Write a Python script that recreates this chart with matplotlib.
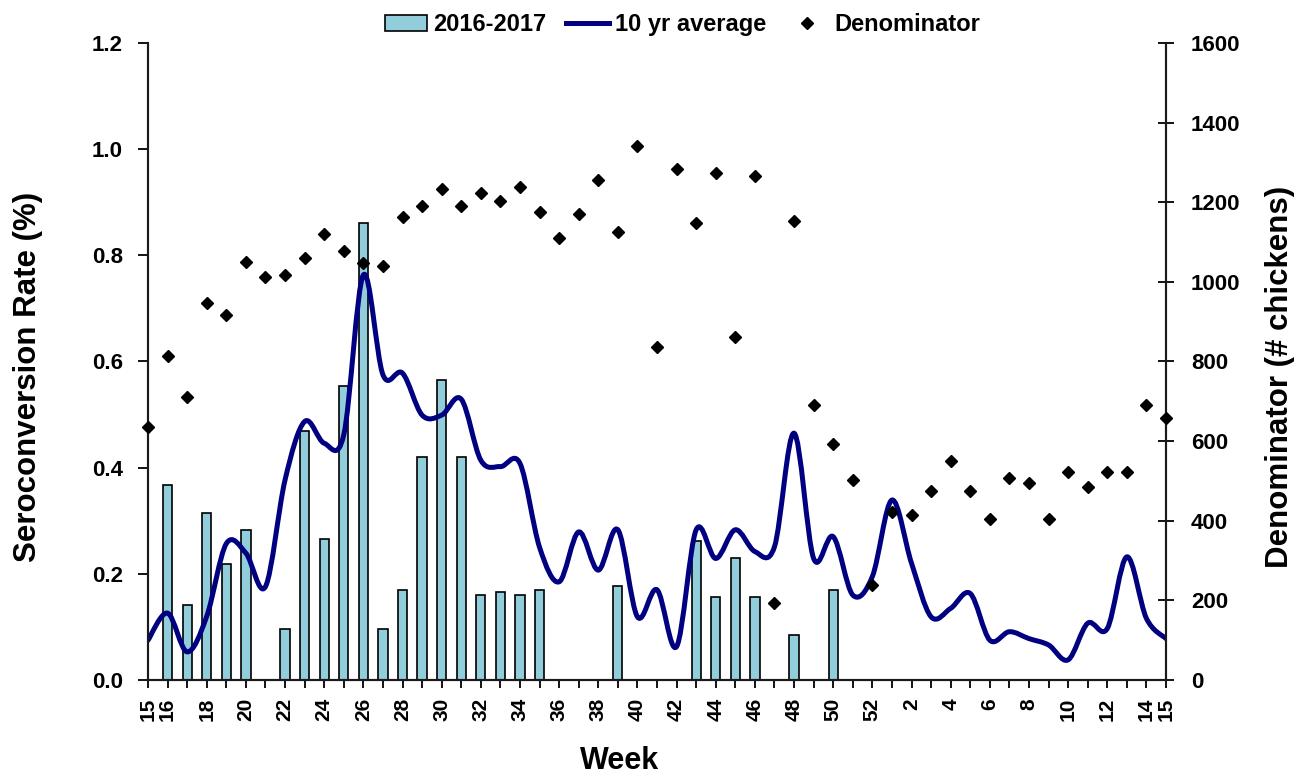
import numpy as np
import matplotlib
matplotlib.use("Agg")
from matplotlib import pyplot as plt
from matplotlib.path import Path
from matplotlib.patches import PathPatch, Patch
from matplotlib.lines import Line2D

plt.rcParams['font.family'] = ['Liberation Sans', 'DejaVu Sans']
plt.rcParams['font.weight'] = 'bold'

# semanas epidemiologicas: 15..52 y luego 1..15
semanas = list(range(15, 53)) + list(range(1, 16))

# tasa de seroconversion 2016-2017 (None = sin barra)
tasa_1617 = [None, 0.367, 0.141, 0.315, 0.218, 0.283, None, 0.097, 0.469, 0.266,
             0.554, 0.860, 0.097, 0.170, 0.420, 0.565, 0.420, 0.161, 0.165, 0.161,
             0.170, None, None, None, 0.178, None, None, None, 0.262, 0.157,
             0.230, 0.157, None, 0.084, None, 0.170, None, None, None, None,
             None, None, None, None, None, None, None, None, None, None,
             None, None, None]

# promedio de 10 anios
promedio_10 = [0.075, 0.126, 0.053, 0.120, 0.257, 0.239, 0.176, 0.377, 0.487, 0.446,
               0.462, 0.763, 0.575, 0.578, 0.499, 0.499, 0.529, 0.414, 0.402, 0.408,
               0.250, 0.185, 0.279, 0.207, 0.283, 0.119, 0.170, 0.063, 0.283, 0.229,
               0.283, 0.242, 0.251, 0.465, 0.229, 0.270, 0.160, 0.195, 0.339, 0.220,
               0.119, 0.135, 0.163, 0.075, 0.091, 0.078, 0.066, 0.038, 0.107, 0.097,
               0.232, 0.116, 0.078]

# denominador (# pollos)
denominador = [636, 814, 712, 948, 917, 1051, 1013, 1017, 1061, 1121,
               1078, 1047, 1040, 1164, 1191, 1234, 1191, 1223, 1202, 1239,
               1175, 1111, 1170, 1256, 1126, 1342, 836, 1283, 1147, 1273,
               862, 1267, 194, 1154, 691, 594, 502, 238, 421, 414,
               475, 550, 475, 404, 507, 496, 404, 523, 484, 523,
               523, 690, 658]


def curvaSuave(xs, ys):
    """ camino Bezier tipo 'linea suavizada' de Excel que pasa por los puntos """
    pts = np.column_stack([xs, ys]).astype(float)
    n = len(pts)
    verts = [pts[0]]
    codes = [Path.MOVETO]
    for i in range(n - 1):
        p0 = pts[i - 1] if i > 0 else pts[i]
        p1 = pts[i]
        p2 = pts[i + 1]
        p3 = pts[i + 2] if i + 2 < n else pts[i + 1]
        c1 = p1 + (p2 - p0) / 6.0
        c2 = p2 - (p3 - p1) / 6.0
        verts += [c1, c2, p2]
        codes += [Path.CURVE4] * 3
    return Path(verts, codes)


fig = plt.figure(figsize=(12.95, 7.76), dpi=100)
ax = fig.add_axes([0.1143, 0.1237, 0.7861, 0.8209])
ax2 = ax.twinx()

x = np.arange(len(semanas))

# barras
xb = [i for i in x if tasa_1617[i] is not None]
yb = [tasa_1617[i] for i in xb]
ax.bar(xb, yb, width=0.47, color="#92CDDC", edgecolor="black", linewidth=1.2, zorder=2)

# linea suavizada
camino = curvaSuave(x, promedio_10)
ax.add_patch(PathPatch(camino, facecolor="none", edgecolor="#000080", linewidth=3.6,
                       zorder=3, capstyle="round", joinstyle="round"))

# denominador
ax2.plot(x, denominador, linestyle="none", marker="D", markersize=6.5, color="black",
         zorder=4, clip_on=False)

ax.set_xlim(0, len(semanas) - 1)
ax.set_ylim(0, 1.2)
ax2.set_ylim(0, 1600)

ax.set_yticks(np.arange(0, 1.21, 0.2))
ax.set_yticklabels(["%.1f" % v for v in np.arange(0, 1.21, 0.2)], fontsize=16, fontweight="bold")
ax2.set_yticks(range(0, 1601, 200))
ax2.set_yticklabels([str(v) for v in range(0, 1601, 200)], fontsize=16, fontweight="bold")

ax.set_xticks(x)
etiquetas = []
for i, s in enumerate(semanas):
    if i == 0 or i == len(semanas) - 1 or i % 2 == 1:
        etiquetas.append(str(s))
    else:
        etiquetas.append("")
ax.set_xticklabels(etiquetas, rotation=90, fontsize=15, fontweight="bold")

ax.tick_params(axis="y", direction="out", length=7, width=1.3, pad=11)
ax.tick_params(axis="x", direction="out", length=6, width=1.3, pad=7)
ax2.tick_params(axis="y", direction="inout", length=12, width=1.3, pad=12)

for a in (ax, ax2):
    a.spines["top"].set_visible(False)
    for s in ("left", "right", "bottom"):
        a.spines[s].set_linewidth(1.5)
        a.spines[s].set_color("#1a1a1a")

ax.set_ylabel("Seroconversion Rate (%)", fontsize=22.5, fontweight="bold")
ax.yaxis.set_label_coords(-0.103, 0.476)
ax2.set_ylabel("Denominator (# chickens)", fontsize=22.5, fontweight="bold")
ax2.yaxis.set_label_coords(1.097, 0.476)
ax.set_xlabel("Week", fontsize=22, fontweight="bold")
ax.xaxis.set_label_coords(0.463, -0.104)

manejadores = [
    Patch(facecolor="#92CDDC", edgecolor="black", linewidth=1.2),
    Line2D([0], [0], color="#000080", linewidth=3.6),
    Line2D([0], [0], linestyle="none", marker="D", markersize=6, color="black"),
]
fig.legend(manejadores, ["2016-2017", "10 yr average", "Denominator"],
           loc="upper center", bbox_to_anchor=(0.527, 1.01), ncol=3, frameon=False,
           prop={"size": 17, "weight": "bold"}, handlelength=1.8, handletextpad=0.25,
           columnspacing=0.85)

fig.savefig("out.png", dpi=100)
